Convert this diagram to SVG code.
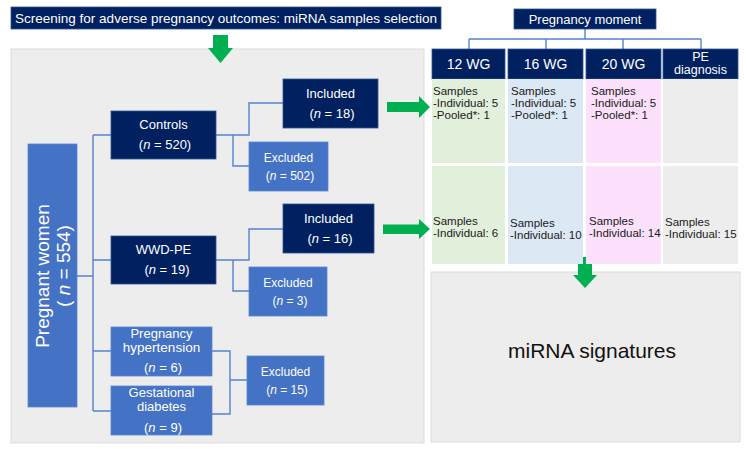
<svg xmlns="http://www.w3.org/2000/svg" width="747" height="449" viewBox="0 0 747 449">
<defs>
<style>
text{font-family:"Liberation Sans",Arial,sans-serif;fill:#fff}
.navy{fill:#002060;stroke:#2f5597;stroke-width:0.8}
.blue{fill:#4472c4;stroke:#5b87d6;stroke-width:0.8}
.panel{fill:#ededed;stroke:#dcdcdc;stroke-width:1}
.conn{fill:none;stroke:#5581cf;stroke-width:1.4}
.arrow{fill:#00b050}
.t13{font-size:13px}
.t12{font-size:12px}
.t14{font-size:14px}
.cell{font-size:11.5px;fill:#1a1a1a}
</style>
</defs>
<rect width="747" height="449" fill="#fff"/>

<g id="panel-left"><rect class="panel" x="11" y="49" width="413" height="394"/></g>
<g id="panel-bottom"><rect class="panel" x="431" y="272" width="309" height="170"/><text x="592" y="358" text-anchor="middle" style="font-size:21px;fill:#111">miRNA signatures</text></g>

<g id="title"><rect class="navy" x="11" y="7" width="430" height="22"/><text x="15" y="23" style="font-size:13.5px" textLength="422" lengthAdjust="spacingAndGlyphs">Screening for adverse pregnancy outcomes: miRNA samples selection</text></g>

<g id="connectors">
<path class="conn" d="M77 276H93M93 135V411M93 135H111M93 260H111M93 351H111M93 411H111"/>
<path class="conn" d="M216 135H249V103H283M233 135V166H249"/>
<path class="conn" d="M216 260H249V229H283M233 260V291H249"/>
<path class="conn" d="M212 351H230V414H212M230 380H247"/>
<path class="conn" d="M585 29V39M469 39H701M469 39V49M546 39V49M623 39V49M701 39V49"/>
</g>

<g id="arrows">
<path class="arrow" d="M213 35H228V48H233L220.5 63L208 48H213Z"/>
<path class="arrow" d="M387 102H419V96L430 107L419 118V112H387Z"/>
<path class="arrow" d="M383 224.5H419V219L430 229L419 239V234H383Z"/>
<path class="arrow" d="M578 257H592V275H597L585 288L573 275H578Z"/>
</g>

<g id="pregnant-women"><rect class="blue" x="28" y="144" width="49" height="263"/>
<text transform="rotate(-90)" x="-276" y="49" text-anchor="middle" style="font-size:19px">Pregnant women</text>
<text transform="rotate(-90)" x="-266" y="70" text-anchor="middle" style="font-size:19px" xml:space="preserve">( <tspan font-style="italic">n</tspan> = 554)</text></g>

<g id="controls"><rect class="navy" x="111" y="111" width="105" height="48"/><text class="t13" x="163.5" y="129" text-anchor="middle">Controls</text><text class="t13" x="165" y="149" text-anchor="middle">(<tspan font-style="italic">n</tspan> = 520)</text></g>
<g id="wwd-pe"><rect class="navy" x="111" y="236" width="105" height="48"/><text class="t13" x="163.5" y="254" text-anchor="middle">WWD-PE</text><text class="t13" x="167" y="274" text-anchor="middle">(<tspan font-style="italic">n</tspan> = 19)</text></g>
<g id="hypertension"><rect class="blue" x="111" y="327" width="101" height="49"/><text class="t13" x="161.5" y="338" text-anchor="middle">Pregnancy</text><text x="161.5" y="352" text-anchor="middle" style="font-size:13.5px">hypertension</text><text class="t13" x="163" y="372" text-anchor="middle">(<tspan font-style="italic">n</tspan> = 6)</text></g>
<g id="diabetes"><rect class="blue" x="111" y="386" width="101" height="49"/><text x="161.5" y="397" text-anchor="middle" style="font-size:13px">Gestational</text><text x="161.5" y="411" text-anchor="middle" style="font-size:13px">diabetes</text><text class="t13" x="163" y="432" text-anchor="middle">(<tspan font-style="italic">n</tspan> = 9)</text></g>

<g id="included-controls"><rect class="navy" x="283" y="79" width="95" height="49"/><text class="t13" x="330.5" y="98" text-anchor="middle">Included</text><text class="t13" x="332" y="118" text-anchor="middle">(<tspan font-style="italic">n</tspan> = 18)</text></g>
<g id="excluded-controls"><rect class="blue" x="249" y="142" width="79" height="49"/><text class="t12" x="288.5" y="162" text-anchor="middle">Excluded</text><text class="t12" x="290" y="180" text-anchor="middle">(<tspan font-style="italic">n</tspan> = 502)</text></g>
<g id="included-wwd"><rect class="navy" x="283" y="204" width="91" height="49"/><text class="t13" x="328.5" y="223" text-anchor="middle">Included</text><text class="t13" x="330" y="243" text-anchor="middle">(<tspan font-style="italic">n</tspan> = 16)</text></g>
<g id="excluded-wwd"><rect class="blue" x="249" y="267" width="78" height="49"/><text class="t12" x="288" y="287" text-anchor="middle">Excluded</text><text class="t12" x="290" y="305" text-anchor="middle">(<tspan font-style="italic">n</tspan> = 3)</text></g>
<g id="excluded-other"><rect class="blue" x="247" y="356" width="77" height="49"/><text class="t12" x="285.5" y="376" text-anchor="middle">Excluded</text><text class="t12" x="287" y="394" text-anchor="middle">(<tspan font-style="italic">n</tspan> = 15)</text></g>

<g id="pregnancy-moment"><rect class="navy" x="514" y="9" width="142" height="20"/><text class="t13" x="585" y="24" text-anchor="middle">Pregnancy moment</text></g>

<g id="col-12wg"><rect class="navy" x="432" y="49" width="73" height="30"/><text class="t14" x="468.5" y="69" text-anchor="middle">12 WG</text>
<rect x="432" y="79" width="73" height="84" fill="#e2efda"/><rect x="432" y="166" width="73" height="98" fill="#e2efda"/>
<text class="cell" x="433" y="95">Samples</text><text class="cell" x="433" y="107">-Individual: 5</text><text class="cell" x="433" y="119">-Pooled*: 1</text>
<text class="cell" x="433" y="225">Samples</text><text class="cell" x="433" y="237">-Individual: 6</text></g>

<g id="col-16wg"><rect class="navy" x="508" y="49" width="75" height="30"/><text class="t14" x="545.5" y="69" text-anchor="middle">16 WG</text>
<rect x="508" y="79" width="75" height="84" fill="#dde8f5"/><rect x="508" y="166" width="75" height="98" fill="#dde8f5"/>
<text class="cell" x="511" y="95">Samples</text><text class="cell" x="511" y="107">-Individual: 5</text><text class="cell" x="511" y="119">-Pooled*: 1</text>
<text class="cell" x="510" y="227">Samples</text><text class="cell" x="510" y="239">-Individual: 10</text></g>

<g id="col-20wg"><rect class="navy" x="586" y="49" width="75" height="30"/><text class="t14" x="623.5" y="69" text-anchor="middle">20 WG</text>
<rect x="586" y="79" width="75" height="84" fill="#fde0fb"/><rect x="586" y="166" width="75" height="98" fill="#fde0fb"/>
<text class="cell" x="591" y="95">Samples</text><text class="cell" x="591" y="107">-Individual: 5</text><text class="cell" x="591" y="119">-Pooled*: 1</text>
<text class="cell" x="589" y="225">Samples</text><text class="cell" x="589" y="237">-Individual: 14</text></g>

<g id="col-pe"><rect class="navy" x="663" y="49" width="75" height="30"/><text x="700.5" y="61" text-anchor="middle" style="font-size:12.5px">PE</text><text x="700.5" y="74" text-anchor="middle" style="font-size:12.5px">diagnosis</text>
<rect x="663" y="79" width="75" height="84" fill="#ededed"/><rect x="663" y="166" width="75" height="98" fill="#ededed"/>
<text class="cell" x="665" y="226">Samples</text><text class="cell" x="665" y="238">-Individual: 15</text></g>
</svg>
